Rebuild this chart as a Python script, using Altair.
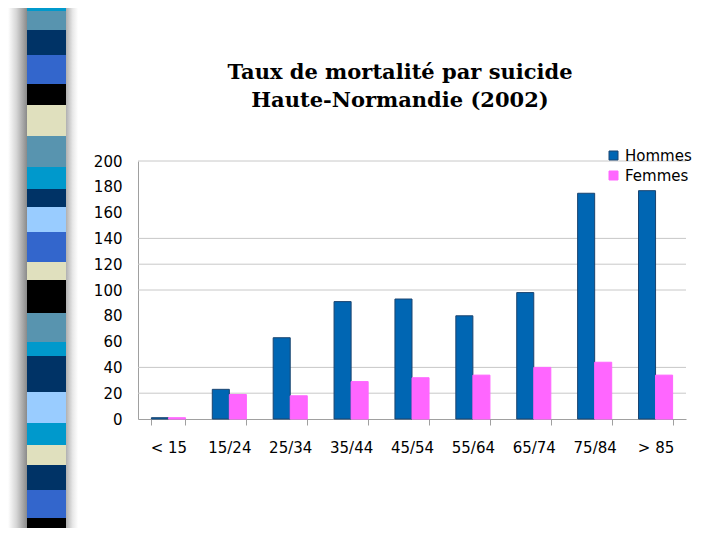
import altair as alt
import pandas as pd

# ---- data ----
categories = ["< 15", "15/24", "25/34", "35/44", "45/54", "55/64", "65/74", "75/84", "> 85"]
hommes = [1, 23, 63, 91, 93, 80, 98, 175, 177]
femmes = [1, 19, 18, 29, 32, 34, 40, 44, 34]
series = ["Hommes", "Femmes"]
series_fill = ["#0066B3", "#FF66FF"]
series_stroke = ["#1A4470", "#FF66FF"]
y_tick_values = [0, 20, 40, 60, 80, 100, 120, 140, 160, 180, 200]
grid_values = [20, 40, 100, 120, 140, 200]

# decorative slide strip (segment lengths, top to bottom, and their colours)
strip_lengths = [3, 19, 25, 29, 21, 31, 31, 22, 18, 25, 30, 18, 33, 29, 14, 36, 31, 22, 20, 25, 28, 10]
strip_colors = ["#0099CC", "#5894AF", "#003366", "#3366CC", "#000000", "#E0E0BE", "#5894AF",
                "#0099CC", "#003366", "#99CCFF", "#3366CC", "#E0E0BE", "#000000", "#5894AF",
                "#0099CC", "#003366", "#99CCFF", "#0099CC", "#E0E0BE", "#003366", "#3366CC",
                "#000000"]
# part of the strip that lies above the plot's top edge
strip_above = 153

rows = []
for c, h, f in zip(categories, hommes, femmes):
    rows.append({"age": c, "sexe": series[0], "taux": h})
    rows.append({"age": c, "sexe": series[1], "taux": f})
df = pd.DataFrame(rows)

strip_df = pd.DataFrame({
    "i": list(range(len(strip_lengths))),
    "len": strip_lengths,
    "col": strip_colors,
    "k": ["strip"] * len(strip_lengths),
})

label_font = "DejaVu Sans"
strip_h = sum(strip_lengths) - strip_above
strip_y = alt.Y("len:Q", stack="zero", axis=None,
                scale=alt.Scale(domain=[strip_above, sum(strip_lengths)], reverse=True, nice=False, zero=False))
band_x = alt.X("k:N", axis=None, scale=alt.Scale(paddingInner=0, paddingOuter=0))

strip = alt.Chart(strip_df).mark_bar(clip=False).encode(
    x=band_x, y=strip_y, order=alt.Order("i:Q"),
    color=alt.Color("col:N", scale=None),
).properties(width=39, height=strip_h)

shadow_left = alt.Chart(strip_df).mark_bar(
    clip=False,
    color=alt.Gradient(
        gradient="linear", x1=0, x2=1, y1=0, y2=0,
        stops=[alt.GradientStop(color="#FFFFFF", offset=0),
               alt.GradientStop(color="#D5D5D5", offset=0.45),
               alt.GradientStop(color="#8A8A8A", offset=1)],
    ),
).encode(x=band_x, y=strip_y, order=alt.Order("i:Q")).properties(width=19, height=strip_h)

shadow_right = alt.Chart(strip_df).mark_bar(
    clip=False,
    color=alt.Gradient(
        gradient="linear", x1=0, x2=1, y1=0, y2=0,
        stops=[alt.GradientStop(color="#B0B0B0", offset=0),
               alt.GradientStop(color="#E8E8E8", offset=0.25),
               alt.GradientStop(color="#FFFFFF", offset=0.45),
               alt.GradientStop(color="#FFFFFF", offset=1)],
    ),
).encode(x=band_x, y=strip_y, order=alt.Order("i:Q")).properties(width=27, height=strip_h)

legend = alt.Legend(
    title=None, orient="none", legendX=598, legendY=-13, direction="vertical",
    symbolType="square", symbolSize=81, symbolStrokeWidth=1,
    labelFont=label_font, labelFontSize=15, labelColor="#000000",
    labelOffset=4, rowPadding=4, padding=0,
)

y_axis = alt.Axis(values=y_tick_values, grid=False, ticks=False, labelPadding=16,
                  labelOverlap=False, labelFlush=False, title=None,
                  domainColor="#A0A0A0", labelFont=label_font, labelFontSize=15,
                  labelColor="#000000")
y_scale = alt.Scale(domain=[0, 200], nice=False)

grid = alt.Chart(pd.DataFrame({"g": grid_values})).mark_rule(color="#C8C8C8", strokeWidth=1).encode(
    y=alt.Y("g:Q", scale=y_scale, axis=y_axis, title=None),
)

bars = alt.Chart(df).mark_bar(strokeWidth=1).encode(
    x=alt.X(
        "age:N", sort=categories, title=None,
        scale=alt.Scale(paddingInner=0.44, paddingOuter=0.22),
        axis=alt.Axis(labelAngle=0, tickBand="extent", ticks=True, tickSize=6,
                      tickColor="#A0A0A0", domainColor="#A0A0A0", labelPadding=15,
                      labelFont=label_font, labelFontSize=15, labelColor="#000000"),
    ),
    xOffset=alt.XOffset("sexe:N", sort=series, scale=alt.Scale(paddingInner=0, paddingOuter=0)),
    y=alt.Y("taux:Q", title=None, scale=y_scale, axis=y_axis),
    color=alt.Color("sexe:N", sort=series, scale=alt.Scale(domain=series, range=series_fill), legend=legend),
    stroke=alt.Stroke("sexe:N", sort=series, scale=alt.Scale(domain=series, range=series_stroke), legend=legend),
)

main = alt.layer(grid, bars).properties(
    width=548, height=258,
    title=alt.TitleParams(
        text=["Taux de mortalité par suicide", "Haute-Normandie (2002)"],
        font="DejaVu Serif", fontWeight="bold", fontSize=21, lineHeight=28,
        color="#000000", anchor="middle", dx=-12, offset=22, frame="group",
        baseline="bottom",
    ),
)

chart = alt.hconcat(shadow_left, strip, shadow_right, main, spacing=0).properties(
    padding={"left": 0, "top": 0, "right": 0, "bottom": 0},
    background="white",
).configure_view(stroke=None)

chart.save("out.html", embed_options={"renderer": "svg", "actions": False})
